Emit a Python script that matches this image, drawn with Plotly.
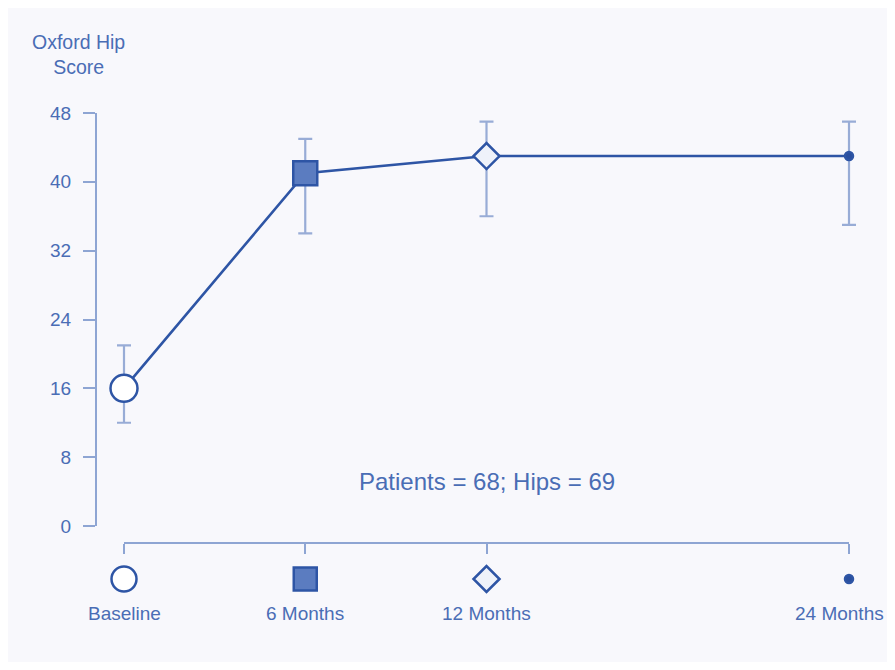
import plotly.graph_objects as go

# ---- data ----
timepoints = ["Baseline", "6 Months", "12 Months", "24 Months"]
months = [0, 6, 12, 24]
mean_score = [16, 41, 43, 43]
err_upper = [21, 45, 47, 47]
err_lower = [12, 34, 36, 35]
y_ticks = [0, 8, 16, 24, 32, 40, 48]
note_text = "Patients = 68; Hips = 69"
y_title = "Oxford Hip<br>Score"

# ---- style ----
FONT = "Liberation Sans, Arial, sans-serif"
TXT = "#4a6db5"
LINE = "#2e55a5"
AXIS = "#8ea5d3"
ERR = "#98acd6"
BG = "#f8f8fc"

symbols = ["circle", "square", "diamond", "circle"]
fills = ["#ffffff", "#5b7cc0", "#eef2fa", "#2a4f9f"]
sizes_main = [27, 24, 20, 8]
sizes_row = [25, 23, 20, 8]

err_plus = [u - m for u, m in zip(err_upper, mean_score)]
err_minus = [m - l for m, l in zip(mean_score, err_lower)]

# figure sized to fit inside the page after the 8px body margins
W, H = 887, 654
ml, mt = 88, 105
plot_right, plot_bottom = 851, 590
mr, mb = W - plot_right, H - plot_bottom
pw = W - ml - mr
ph = H - mt - mb
x0_px, x1_px = 116, 841          # pixel positions of month 0 and month 24
pad = 10                          # extra room so error-bar caps are not clipped
upp = (months[-1] - months[0]) / (x1_px - x0_px)
label_y_px = 605                  # vertical centre of the time-point labels
visible_right_px = 878            # keep the last label inside the visible page

fig = go.Figure()

# error bars (drawn first, beneath markers) on a slightly wider twin x axis
fig.add_trace(go.Scatter(
    x=months, y=mean_score, mode="markers", xaxis="x2",
    marker=dict(size=1, color="rgba(0,0,0,0)"),
    error_y=dict(type="data", symmetric=False, array=err_plus, arrayminus=err_minus,
                 color=ERR, thickness=2.2, width=7),
    cliponaxis=False, showlegend=False, hoverinfo="skip",
))

# mean line with markers (same twin axis, same mapping as the visible x axis)
fig.add_trace(go.Scatter(
    x=months, y=mean_score, mode="lines+markers", xaxis="x2",
    line=dict(color=LINE, width=2.6),
    marker=dict(symbol=symbols, size=sizes_main, color=fills, opacity=1,
                line=dict(color=LINE, width=2.5)),
    cliponaxis=False, showlegend=False, hoverinfo="skip",
))

# symbol key row under the x axis
fig.add_trace(go.Scatter(
    x=months, y=[0] * len(months), mode="markers", yaxis="y2",
    marker=dict(symbol=symbols, size=sizes_row, color=fills, opacity=1,
                line=dict(color=LINE, width=2.5)),
    cliponaxis=False, showlegend=False, hoverinfo="skip",
))

# time-point labels (annotations so the last one stays fully visible)
label_annotations = []
for i, (m, t) in enumerate(zip(months, timepoints)):
    last = i == len(months) - 1
    label_annotations.append(dict(
        text=t, xref="x", yref="paper", x=m, y=(plot_bottom - label_y_px) / ph,
        xanchor="right" if last else "center", yanchor="middle",
        xshift=(visible_right_px - x1_px) if last else 0,
        showarrow=False, font=dict(size=19, color=TXT),
    ))

fig.update_layout(
    width=W, height=H,
    margin=dict(l=ml, r=mr, t=mt, b=mb, autoexpand=False),
    paper_bgcolor=BG,
    plot_bgcolor="rgba(0,0,0,0)",
    font=dict(family=FONT, size=19, color=TXT),
    xaxis=dict(
        range=[months[0], months[-1]],
        domain=[(x0_px - ml) / pw, (x1_px - ml) / pw],
        anchor="free", position=(plot_bottom - 535) / ph,
        showline=True, linecolor=AXIS, linewidth=2,
        ticks="outside", ticklen=10, tickwidth=2, tickcolor=AXIS,
        tickvals=months, showticklabels=False,
        showgrid=False, zeroline=False, automargin=False,
    ),
    xaxis2=dict(
        range=[months[0] - pad * upp, months[-1] + pad * upp],
        domain=[(x0_px - pad - ml) / pw, (x1_px + pad - ml) / pw],
        anchor="free", position=0, visible=False,
        showgrid=False, zeroline=False, automargin=False,
    ),
    yaxis=dict(
        range=[0, 48], domain=[(plot_bottom - 518) / ph, 1],
        anchor="free", position=0,
        showline=True, linecolor=AXIS, linewidth=2,
        ticks="outside", ticklen=12, tickwidth=2, tickcolor=AXIS,
        tickvals=y_ticks,
        ticklabelstandoff=8,
        showgrid=False, zeroline=False, automargin=False,
        tickfont=dict(size=19, color=TXT),
    ),
    yaxis2=dict(
        range=[-1, 1], domain=[0, 2 * (plot_bottom - 571) / ph],
        anchor="free", position=0, visible=False,
        showgrid=False, zeroline=False, automargin=False,
    ),
    annotations=[
        dict(text=y_title, xref="paper", yref="paper",
             x=(70 - ml) / pw, y=(plot_bottom - 47) / ph,
             xanchor="center", yanchor="middle",
             showarrow=False, font=dict(size=19.5, color=TXT), align="center"),
        dict(text=note_text, xref="x", yref="y", x=12, y=5.2,
             xanchor="center", yanchor="middle", showarrow=False,
             font=dict(size=24, color=TXT)),
    ] + label_annotations,
)

fig.write_html("out.html")
